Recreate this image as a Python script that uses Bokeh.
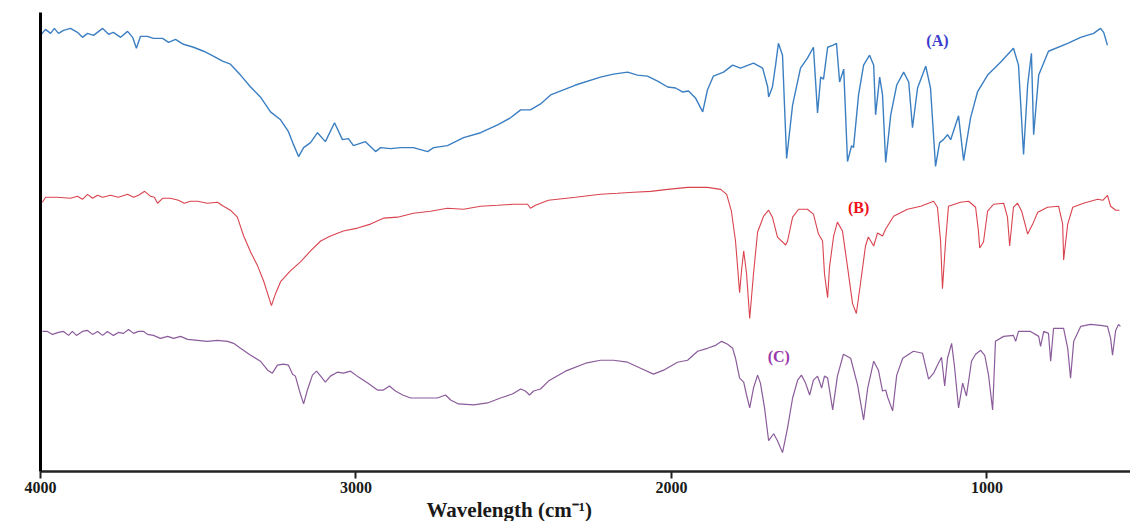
from bokeh.plotting import figure
from bokeh.models import Range1d, FixedTicker, Label, Title
from bokeh.embed import file_html
from bokeh.resources import INLINE

# ---------------- data (wavenumber in cm-1, transmittance in arbitrary offset units) ----------------
a_wn = [4000, 3984, 3968, 3956, 3943, 3927, 3905, 3883, 3867, 3851, 3832, 3803, 3784, 3769, 3746, 3724,
        3708, 3696, 3683, 3661, 3642, 3613, 3594, 3572, 3547, 3515, 3483, 3452, 3423, 3398, 3366, 3334,
        3303, 3271, 3239, 3214, 3198, 3182, 3166, 3144, 3122, 3097, 3068, 3043, 3024, 3008, 2970, 2938,
        2922, 2890, 2859, 2818, 2773, 2754, 2710, 2659, 2605, 2551, 2510, 2478, 2447, 2415, 2383, 2304,
        2225, 2184, 2139, 2108, 2076, 2044, 2012, 1987, 1965, 1946, 1924, 1901, 1886, 1867, 1835, 1806,
        1781, 1740, 1711, 1695, 1692, 1680, 1670, 1661, 1648, 1635, 1616, 1591, 1569, 1550, 1537, 1527,
        1518, 1505, 1489, 1477, 1467, 1454, 1442, 1429, 1423, 1407, 1391, 1372, 1359, 1353, 1340, 1331,
        1321, 1305, 1286, 1264, 1248, 1236, 1220, 1194, 1179, 1163, 1150, 1138, 1125, 1115, 1090, 1074,
        1052, 1030, 998, 957, 916, 900, 884, 871, 859, 852, 836, 805, 744, 703, 662, 640, 630, 618]
a_t = [439, 445, 441, 446, 441, 444, 446, 442, 437, 441, 439, 446, 440, 442, 437, 443,
       437, 426, 438, 438, 436, 436, 432, 435, 430, 427, 423, 418, 413, 410, 399, 387,
       377, 362, 354, 342, 329, 317, 326, 331, 341, 332, 351, 334, 335, 328, 332, 322,
       326, 325, 326, 326, 322, 326, 328, 336, 341, 349, 356, 364, 364, 370, 379, 389,
       397, 400, 402, 399, 398, 393, 387, 386, 382, 383, 376, 362, 384, 398, 402, 409,
       406, 411, 406, 387, 377, 387, 409, 431, 419, 315, 369, 406, 416, 427, 361, 397,
       395, 427, 429, 431, 392, 405, 312, 328, 326, 379, 409, 419, 409, 359, 397, 379,
       311, 359, 389, 402, 392, 346, 386, 408, 386, 307, 331, 334, 339, 334, 358, 313,
       356, 382, 399, 412, 426, 409, 319, 389, 421, 339, 399, 423, 431, 437, 441, 446, 442, 429]

b_wn = [3994, 3984, 3946, 3905, 3883, 3867, 3851, 3835, 3819, 3803, 3778, 3753, 3724, 3705, 3689, 3670,
        3651, 3639, 3629, 3613, 3588, 3563, 3544, 3525, 3502, 3471, 3439, 3420, 3398, 3376, 3356, 3334,
        3312, 3293, 3280, 3268, 3255, 3239, 3208, 3176, 3144, 3112, 3081, 3040, 2995, 2954, 2913, 2868,
        2818, 2764, 2710, 2659, 2605, 2551, 2501, 2456, 2447, 2431, 2415, 2390, 2304, 2225, 2171, 2120,
        2066, 2012, 1949, 1886, 1844, 1825, 1810, 1797, 1784, 1778, 1771, 1762, 1752, 1740, 1727, 1708,
        1692, 1680, 1664, 1638, 1632, 1616, 1597, 1569, 1550, 1534, 1521, 1515, 1505, 1499, 1486, 1474,
        1458, 1442, 1426, 1414, 1401, 1385, 1376, 1359, 1347, 1331, 1321, 1296, 1252, 1210, 1169, 1157,
        1147, 1141, 1131, 1122, 1084, 1058, 1036, 1027, 1023, 1011, 998, 979, 947, 935, 928, 916,
        903, 890, 871, 855, 839, 808, 773, 760, 757, 744, 728, 694, 649, 633, 618, 608, 592, 580]
b_t = [271, 276, 276, 275, 277, 274, 279, 275, 278, 276, 278, 276, 279, 276, 278, 282,
       277, 276, 270, 275, 275, 273, 270, 272, 272, 270, 271, 267, 263, 256, 237, 221,
       207, 192, 179, 167, 179, 191, 202, 211, 222, 232, 237, 242, 245, 249, 255, 256,
       260, 262, 265, 264, 267, 268, 269, 269, 265, 268, 270, 273, 276, 279, 280, 281,
       282, 284, 286, 286, 284, 279, 262, 232, 180, 202, 222, 199, 154, 199, 241, 257,
       263, 256, 236, 228, 232, 256, 264, 264, 259, 239, 232, 199, 175, 206, 237, 251,
       242, 206, 169, 159, 189, 227, 236, 227, 240, 237, 244, 257, 264, 267, 272, 266,
       232, 184, 232, 267, 271, 272, 266, 242, 225, 231, 262, 269, 270, 256, 227, 266,
       270, 262, 239, 249, 261, 266, 267, 249, 213, 249, 266, 270, 274, 273, 278, 267, 263, 263]

c_wn = [3994, 3978, 3962, 3943, 3927, 3911, 3899, 3886, 3867, 3851, 3835, 3819, 3803, 3788, 3769, 3753,
        3737, 3721, 3705, 3689, 3673, 3661, 3642, 3620, 3597, 3578, 3556, 3534, 3502, 3471, 3439, 3407,
        3388, 3366, 3334, 3303, 3280, 3265, 3249, 3230, 3214, 3201, 3192, 3179, 3166, 3154, 3138, 3125,
        3112, 3097, 3081, 3059, 3040, 3017, 2992, 2963, 2932, 2913, 2894, 2875, 2852, 2827, 2786, 2742,
        2716, 2700, 2675, 2627, 2583, 2542, 2504, 2478, 2463, 2450, 2437, 2415, 2390, 2336, 2272, 2225,
        2184, 2139, 2098, 2057, 2025, 1981, 1949, 1917, 1886, 1860, 1841, 1822, 1806, 1797, 1784, 1771,
        1762, 1752, 1740, 1727, 1718, 1705, 1692, 1676, 1664, 1648, 1632, 1616, 1600, 1588, 1575, 1562,
        1550, 1537, 1524, 1515, 1505, 1489, 1474, 1455, 1432, 1410, 1391, 1378, 1359, 1344, 1331, 1321,
        1315, 1299, 1286, 1267, 1233, 1204, 1185, 1169, 1157, 1144, 1134, 1125, 1112, 1103, 1090, 1077,
        1065, 1049, 1036, 1020, 1007, 995, 982, 973, 947, 916, 909, 900, 862, 836, 830, 820,
        805, 798, 789, 757, 744, 735, 725, 703, 672, 640, 618, 608, 602, 592, 583, 577]
c_t = [141, 141, 138, 140, 141, 137, 141, 137, 141, 142, 138, 141, 137, 141, 137, 140,
       139, 143, 139, 141, 141, 138, 137, 134, 136, 134, 136, 133, 132, 131, 132, 131,
       129, 124, 117, 111, 102, 99, 107, 108, 107, 98, 96, 81, 68, 82, 97, 101,
       96, 90, 96, 100, 99, 101, 95, 89, 82, 82, 86, 81, 77, 74, 74, 74,
       77, 72, 68, 67, 69, 74, 78, 83, 81, 77, 81, 83, 91, 101, 109, 112,
       112, 110, 104, 98, 102, 110, 112, 121, 124, 127, 131, 128, 124, 114, 94, 90,
       77, 64, 84, 97, 89, 64, 31, 38, 31, 19, 44, 74, 92, 97, 89, 77,
       92, 96, 84, 96, 94, 62, 96, 118, 114, 87, 52, 84, 111, 102, 81, 82,
       75, 61, 97, 114, 121, 119, 93, 99, 107, 115, 86, 114, 129, 106, 64, 89,
       76, 111, 118, 122, 117, 97, 62, 131, 136, 137, 131, 141, 141, 136, 126, 141,
       139, 111, 144, 144, 124, 94, 131, 146, 148, 147, 146, 134, 117, 142, 148, 146]

x_ticks = [4000, 3000, 2000, 1000]
x_title = "Wavelength (cm\u207b\u00b9)"
series_names = ["(A)", "(B)", "(C)"]
series_colors = ["#3b7fc2", "#d9434e", "#8b5c9b"]
label_colors = ["#3c3ccc", "#ee1119", "#9a3aaa"]

# ---------------- figure ----------------
p = figure(width=1130, height=521, output_backend="svg", toolbar_location=None,
           x_range=Range1d(4000, 545), y_range=Range1d(0, 462),
           min_border_left=40, min_border_right=0, min_border_top=12, min_border_bottom=46,
           background_fill_color="white", border_fill_color="white")
p.outline_line_color = None
p.xgrid.visible = False
p.ygrid.visible = False

p.line(a_wn, a_t, line_color=series_colors[0], line_width=1.4)
p.line(b_wn, b_t, line_color=series_colors[1], line_width=1.1)
p.line(c_wn, c_t, line_color=series_colors[2], line_width=1.2)

# series labels
for name, col, xx, yy in zip(series_names, label_colors, [1157, 1407, 1660], [434, 266, 116]):
    p.add_layout(Label(x=xx, y=yy, text=name, text_color=col, text_font="Liberation Serif",
                       text_font_style="bold", text_font_size="16px",
                       text_align="center", text_baseline="middle"))

# x-axis title, placed left of centre as in the original
p.add_layout(Title(text=x_title, align="left", offset=386, standoff=0,
                   text_color="#1a1a1a", text_font="Liberation Serif",
                   text_font_style="bold", text_font_size="21px"), "below")

xa = p.xaxis[0]
xa.ticker = FixedTicker(ticks=x_ticks)
xa.major_label_text_font = "Liberation Serif"
xa.major_label_text_font_style = "bold"
xa.major_label_text_font_size = "16px"
xa.major_label_text_color = "#1a1a1a"
xa.major_label_standoff = 3
xa.major_tick_in = 0
xa.major_tick_out = 7
xa.major_tick_line_width = 2
xa.major_tick_line_color = "#222222"
xa.minor_tick_line_color = None
xa.axis_line_width = 2.5
xa.axis_line_color = "#222222"

ya = p.yaxis[0]
ya.ticker = FixedTicker(ticks=[])
ya.major_tick_line_color = None
ya.minor_tick_line_color = None
ya.axis_line_width = 3
ya.axis_line_color = "black"

open("out.html", "w").write(file_html(p, INLINE))
